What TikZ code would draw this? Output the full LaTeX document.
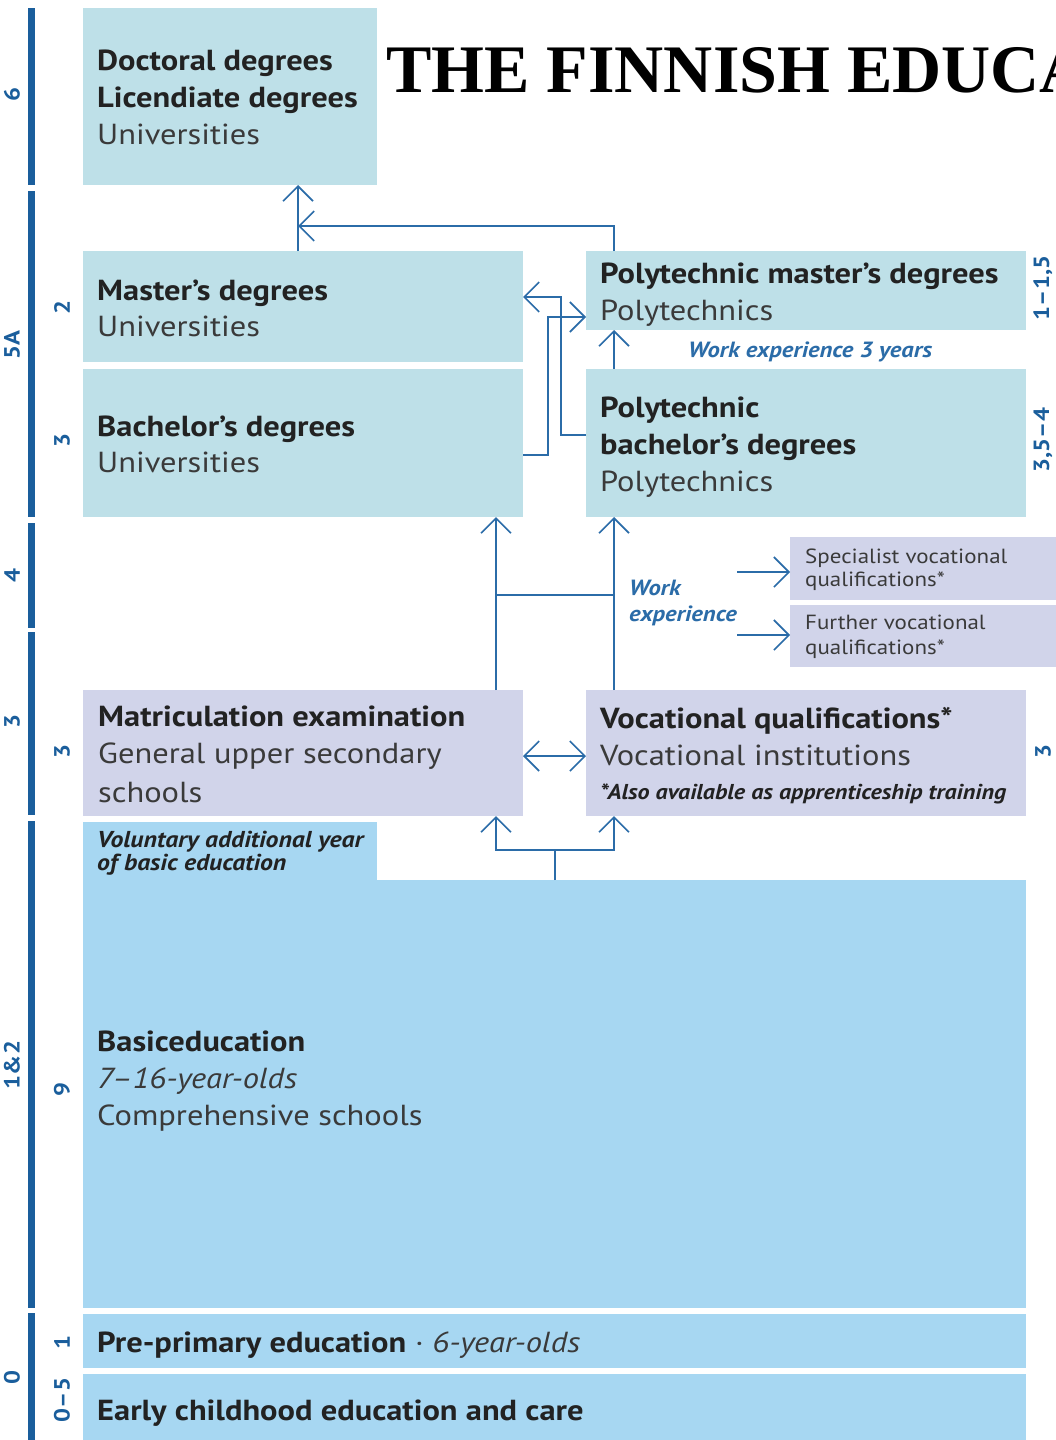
\documentclass[tikz,border=0pt]{standalone}
\usepackage{fontspec}
\setmainfont{PT Sans}[FakeStretch=1.12]
\newfontfamily\titlefont{Liberation Serif}
\usetikzlibrary{arrows.meta}
\definecolor{degblue}{HTML}{BEE0E8}
\definecolor{lav}{HTML}{D1D4EA}
\definecolor{basicblue}{HTML}{A7D7F2}
\definecolor{barblue}{HTML}{1A5E9C}
\definecolor{arrblue}{HTML}{2B6CA8}
\definecolor{txt}{HTML}{222222}
\definecolor{txtlight}{HTML}{3A3A3A}
\begin{document}
\begin{tikzpicture}[x=1pt,y=-1pt,
  box/.style={rectangle, inner sep=0pt, outer sep=0pt, anchor=north west, draw=none},
  hd/.style={anchor=base west, inner sep=0pt, text=txt, font=\fontsize{29}{37}\selectfont\bfseries},
  sub/.style={anchor=base west, inner sep=0pt, text=txtlight, font=\fontsize{29}{37}\selectfont},
  subit/.style={anchor=base west, inner sep=0pt, text=txtlight, font=\fontsize{29}{37}\selectfont\itshape},
  small/.style={anchor=base west, inner sep=0pt, text=txtlight, font=\fontsize{20.5}{24}\selectfont},
  note/.style={anchor=base west, inner sep=0pt, text=txt, font=\fontsize{21.5}{24}\selectfont\bfseries\itshape},
  vnote/.style={anchor=base west, inner sep=0pt, text=txt, font=\fontsize{23}{24}\selectfont\bfseries\itshape},
  wnote/.style={anchor=base west, inner sep=0pt, text=arrblue, font=\fontsize{22}{25}\selectfont\bfseries\itshape},
  lab/.style={rotate=90, inner sep=0pt, text=barblue, font=\fontsize{22}{24}\selectfont\bfseries},
  bar/.style={line width=7pt, draw=barblue},
  ln/.style={draw=arrblue, line width=1.6pt},
  arr/.style={ln, -{Straight Barb[length=15pt,width=30pt,line width=1.6pt]}},
  darr/.style={ln, {Straight Barb[length=15pt,width=30pt,line width=1.6pt]}-{Straight Barb[length=15pt,width=30pt,line width=1.6pt]}}
]
\useasboundingbox (0,0) rectangle (1056,1440);
\fill[white] (0,0) rectangle (1056,1440);

% level bar on the left
\draw[bar] (31,8) -- (31,185);
\draw[bar] (31,191) -- (31,517);
\draw[bar] (31,523) -- (31,628);
\draw[bar] (31,632) -- (31,815);
\draw[bar] (31,821) -- (31,1308);
\draw[bar] (31,1313) -- (31,1440);
\node[lab] (l6) at (12,95) {6};
\node[lab] (l5a) at (12,345) {5A};
\node[lab] (l4) at (12,576) {4};
\node[lab] (l3) at (12,722) {3};
\node[lab] (l12) at (12,1065) {1\&2};
\node[lab] (l0) at (12,1377) {0};

\node[lab] (y2) at (62,308) {2};
\node[lab] (y3a) at (62,441) {3};
\node[lab] (y3b) at (62,752) {3};
\node[lab] (y9) at (62,1090) {9};
\node[lab] (y1) at (62,1342) {1};
\node[lab] (y05) at (62,1400) {0–5};

\node[lab] (r1) at (1043,288) {1–1,5};
\node[lab] (r2) at (1043,440) {3,5–4};
\node[lab] (r3) at (1043,752) {3};

% boxes
\node[box, fill=degblue, minimum width=294pt, minimum height=177pt] (doc) at (83,8) {};
\node[box, fill=degblue, minimum width=440pt, minimum height=111pt] (mas) at (83,251) {};
\node[box, fill=degblue, minimum width=440pt, minimum height=148pt] (bach) at (83,369) {};
\node[box, fill=degblue, minimum width=440pt, minimum height=79pt] (pmas) at (586,251) {};
\node[box, fill=degblue, minimum width=440pt, minimum height=148pt] (pbach) at (586,369) {};
\node[box, fill=lav, minimum width=266pt, minimum height=63pt] (spec) at (790,537) {};
\node[box, fill=lav, minimum width=266pt, minimum height=62pt] (fur) at (790,605) {};
\node[box, fill=lav, minimum width=440pt, minimum height=126pt] (mat) at (83,690) {};
\node[box, fill=lav, minimum width=440pt, minimum height=126pt] (voc) at (586,690) {};
\node[box, fill=basicblue, minimum width=294pt, minimum height=59pt] (vol) at (83,822) {};
\node[box, fill=basicblue, minimum width=943pt, minimum height=428pt] (basic) at (83,880) {};
\node[box, fill=basicblue, minimum width=943pt, minimum height=54pt] (pre) at (83,1314) {};
\node[box, fill=basicblue, minimum width=943pt, minimum height=66pt] (early) at (83,1374) {};

% title (cut off at the right edge, as in the reference)
\begin{scope}
\clip (0,0) rectangle (1056,1440);
\node[anchor=base west, inner sep=0pt, font=\fontsize{68}{70}\selectfont\titlefont\bfseries] (title) at (386,92) {THE FINNISH EDUCATION SYSTEM};
\end{scope}

% texts
\node[hd] (t1) at (97,70) {Doctoral degrees};
\node[hd] (t2) at (97,107) {Licendiate degrees};
\node[sub] (t3) at (97,144) {Universities};
\node[hd] (t4) at (97,300) {Master’s degrees};
\node[sub] (t5) at (97,336) {Universities};
\node[hd] (t6) at (97,436) {Bachelor’s degrees};
\node[sub] (t7) at (97,472) {Universities};
\node[hd] (t8) at (600,283) {Polytechnic master’s degrees};
\node[sub] (t9) at (600,320) {Polytechnics};
\node[wnote] (t10) at (688,357) {Work experience 3 years};
\node[hd] (t11) at (600,417) {Polytechnic};
\node[hd] (t12) at (600,454) {bachelor’s degrees};
\node[sub] (t13) at (600,491) {Polytechnics};
\node[wnote] (t14) at (629,595) {Work};
\node[wnote] (t15) at (629,621) {experience};
\node[small] (t16) at (805,563) {Specialist vocational};
\node[small] (t17) at (805,586) {qualifications*};
\node[small] (t18) at (805,629) {Further vocational};
\node[small] (t19) at (805,654) {qualifications*};
\node[hd] (t20) at (98,726) {Matriculation examination};
\node[sub] (t21) at (98,763) {General upper secondary};
\node[sub] (t22) at (98,802) {schools};
\node[hd] (t23) at (600,728) {Vocational qualifications*};
\node[sub] (t24) at (600,765) {Vocational institutions};
\node[note] (t25) at (600,799) {*Also available as apprenticeship training};
\node[vnote] (t26) at (97,847) {Voluntary additional year};
\node[vnote] (t27) at (97,870) {of basic education};
\node[hd] (t28) at (97,1051) {Basiceducation};
\node[subit] (t29) at (97,1088) {7–16-year-olds};
\node[sub] (t30) at (97,1125) {Comprehensive schools};
\node[hd] (t31) at (97,1352) {Pre-primary education\textmd{\color{txtlight}\ ·\ \itshape 6-year-olds}};
\node[hd] (t32) at (97,1420) {Early childhood education and care};

% connector coordinates
\coordinate (xA) at (298,0);
\coordinate (xB) at (614,0);
\coordinate (xC) at (496,0);
\coordinate (j1) at (298,226);
\coordinate (k1) at (561,435);
\coordinate (k2) at (561,297);
\coordinate (m1) at (548,455);
\coordinate (m2) at (548,317);
\coordinate (h1) at (496,595);
\coordinate (h2) at (614,595);
\coordinate (w1) at (737,572);
\coordinate (w2) at (737,635);
\coordinate (d1) at (0,756);
\coordinate (b1) at (555,850);

% connectors
\draw[arr] (mas.north -| xA) -- (doc.south -| xA);
\draw[arr] (pmas.north -| xB) |- (j1);
\draw[arr] (pbach.west |- k1) -- (k1) -- (k2) -- (mas.east |- k2);
\draw[arr] (bach.east |- m1) -- (m1) -- (m2) -- (pmas.west |- m2);
\draw[arr] (pbach.north -| xB) -- (pmas.south -| xB);
\draw[arr] (mat.north -| xC) -- (bach.south -| xC);
\draw[arr] (voc.north -| xB) -- (pbach.south -| xB);
\draw[ln] (h1) -- (h2);
\draw[arr] (w1) -- (spec.west |- w1);
\draw[arr] (w2) -- (fur.west |- w2);
\draw[darr] (mat.east |- d1) -- (voc.west |- d1);
\draw[ln] (basic.north -| b1) -- (b1);
\draw[arr] (b1) -| (mat.south -| xC);
\draw[arr] (b1) -| (voc.south -| xB);
\end{tikzpicture}
\end{document}
